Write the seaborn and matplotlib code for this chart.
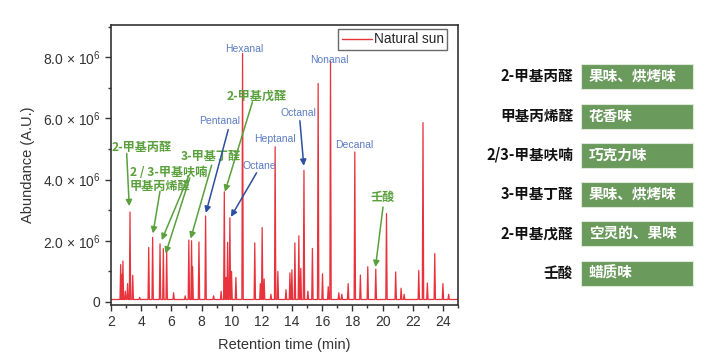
import numpy as np
import pandas as pd
import matplotlib
matplotlib.use("Agg")
import matplotlib.pyplot as plt
import seaborn as sns
from matplotlib.patches import Rectangle
from matplotlib.ticker import FixedLocator, FixedFormatter, MultipleLocator

# ---------------- data ----------------
peak_times = [2.64, 2.72, 2.79, 2.95, 3.10, 3.26, 3.44, 3.9, 4.50, 4.76, 5.25, 5.47, 5.69,
              6.15, 6.92, 7.16, 7.34, 7.41, 7.83, 8.27, 8.8, 9.3, 9.51, 9.62, 9.73, 9.88, 9.99,
              10.28, 10.72, 11.53, 11.9, 12.02, 12.15, 12.6, 12.88, 13.06, 13.6, 13.86,
              13.99, 14.19, 14.45, 14.58, 14.79, 15.05, 15.35, 15.73, 16.02, 16.4, 16.55,
              17.1, 17.3, 17.72, 18.16, 18.53, 19.02, 19.55, 20.26, 20.87, 21.23, 21.43,
              22.4, 22.68, 22.97, 23.46, 24.0, 24.38]
peak_heights = [1.22, 0.9, 1.34, 0.35, 0.6, 2.94, 0.87, 0.15, 1.78, 2.11, 1.90, 1.74, 1.70,
                0.30, 0.20, 2.02, 2.00, 1.15, 1.96, 2.81, 0.2, 0.35, 3.60, 0.8, 1.95, 2.75, 1.0,
                0.80, 8.12, 1.93, 0.6, 2.43, 0.75, 0.25, 5.07, 1.00, 0.40, 0.95,
                1.05, 1.93, 2.16, 1.10, 4.30, 0.35, 1.75, 7.14, 0.92, 0.50, 7.87,
                0.30, 0.25, 0.60, 4.90, 0.88, 1.15, 1.07, 2.89, 0.98, 0.45, 0.25,
                1.03, 5.86, 0.62, 1.58, 0.60, 0.25]
baseline = 0.08

x_ticks = [2, 4, 6, 8, 10, 12, 14, 16, 18, 20, 22, 24]
y_ticks = [0, 2e6, 4e6, 6e6, 8e6]
y_ticklabels = ["0", "2.0 × 10$^{6}$", "4.0 × 10$^{6}$", "6.0 × 10$^{6}$", "8.0 × 10$^{6}$"]

blue_labels = ["Hexanal", "Nonanal", "Pentanal", "Heptanal", "Octanal", "Octane", "Decanal"]
blue_pos = [(10.8, 8.28), (16.5, 7.92), (9.22, 5.9), (12.86, 5.31), (14.4, 6.16), (11.83, 4.45), (18.14, 5.12)]

row_labels = ["2-甲基丙醛", "甲基丙烯醛", "2/3-甲基呋喃", "3-甲基丁醛", "2-甲基戊醛", "壬酸"]
row_flavors = ["果味、烘烤味", "花香味", "巧克力味", "果味、烘烤味", "空灵的、果味", "蜡质味"]

# ---------------- build trace ----------------
w = 0.045
xs = [2.0]
ys = [baseline]
for t, h in sorted(zip(peak_times, peak_heights)):
    xs += [t - w, t, t + w]
    ys += [baseline, h, baseline]
xs.append(25.0)
ys.append(baseline)
df = pd.DataFrame({"Retention time (min)": xs, "Abundance": np.array(ys) * 1e6})

# ---------------- figure ----------------
sns.set_style("white")
plt.rcParams["font.family"] = ["Liberation Sans", "Noto Sans CJK SC", "DejaVu Sans"]
plt.rcParams["mathtext.fontset"] = "custom"
plt.rcParams["mathtext.rm"] = "Liberation Sans"
plt.rcParams["mathtext.default"] = "rm"

W, H = 720, 358
fig = plt.figure(figsize=(7.2, 3.58), dpi=100)
ax = fig.add_axes([111 / W, 1 - 305 / H, (458 - 111) / W, (305 - 25) / H])

sns.lineplot(data=df, x="Retention time (min)", y="Abundance", ax=ax,
             color="#e8323c", linewidth=0.9, estimator=None, sort=False,
             label="Natural sun")

ax.set_xlim(2, 25)
ax.set_ylim(-0.1e6, 9.05e6)
ax.xaxis.set_major_locator(FixedLocator(x_ticks))
ax.xaxis.set_minor_locator(MultipleLocator(1))
ax.yaxis.set_major_locator(FixedLocator(y_ticks))
ax.yaxis.set_major_formatter(FixedFormatter(y_ticklabels))
ax.yaxis.set_minor_locator(MultipleLocator(1e6))
ax.tick_params(which="major", direction="out", length=4, width=1, color="#333333",
               labelsize=10, labelcolor="#333333", left=True, bottom=True)
ax.tick_params(which="minor", direction="out", length=2.5, width=1, color="#333333",
               left=True, bottom=True)
for s in ax.spines.values():
    s.set_color("#333333")
    s.set_linewidth(1.2)
ax.set_xlabel("Retention time (min)", fontsize=10.5, color="#333333", labelpad=6)
ax.set_ylabel("Abundance (A.U.)", fontsize=10.5, color="#333333", labelpad=6)

leg = ax.legend(loc="upper right", fontsize=9.8, frameon=True, fancybox=False,
                handlelength=2.2, borderpad=0.25, handletextpad=0.15,
                borderaxespad=0.0,
                bbox_to_anchor=((447 - 111) / 347, (305 - 29) / 280))
leg.get_frame().set_edgecolor("#444444")
leg.get_frame().set_linewidth(1.0)
for line in leg.get_lines():
    line.set_linewidth(1.0)

# blue labels
for lab, (tx, ty) in zip(blue_labels, blue_pos):
    ax.text(tx, ty * 1e6, lab, color="#5b7cc4", fontsize=7.5, ha="center", va="center")

green = "#5aa03c"
dblue = "#2e4fa0"
cjk = ["Noto Sans CJK SC", "DejaVu Sans"]

def arrow(x0, y0, x1, y1, color):
    ax.annotate("", xy=(x1, y1 * 1e6), xytext=(x0, y0 * 1e6),
                arrowprops=dict(arrowstyle="-|>", color=color, lw=1.1,
                                mutation_scale=9, shrinkA=0, shrinkB=0))

gkw = dict(color=green, fontsize=8.7, va="center", family=cjk, fontweight="bold")
# green annotations
ax.text(4.05, 5.06e6, "2-甲基丙醛", ha="center", **gkw)
arrow(3.04, 4.85, 3.21, 3.13, green)
ax.text(3.25, 4.22e6, "2 / 3-甲基呋喃", ha="left", **gkw)
ax.text(3.25, 3.78e6, "甲基丙烯醛", ha="left", **gkw)
arrow(5.25, 3.62, 4.78, 2.24, green)
arrow(7.15, 4.12, 5.36, 2.02, green)
arrow(7.22, 4.05, 5.62, 1.58, green)
ax.text(8.62, 4.74e6, "3-甲基丁醛", ha="center", **gkw)
arrow(8.67, 4.47, 7.28, 2.07, green)
ax.text(11.67, 6.72e6, "2-甲基戊醛", ha="center", **gkw)
arrow(11.38, 6.54, 9.55, 3.6, green)
ax.text(19.98, 3.41e6, "壬酸", ha="center", **gkw)
arrow(20.03, 3.1, 19.53, 1.14, green)

# dark blue arrows
arrow(9.77, 5.63, 8.29, 2.91, dblue)
arrow(11.65, 4.22, 9.95, 2.78, dblue)
arrow(14.52, 5.92, 14.78, 4.45, dblue)

# ---------------- right panel ----------------
pax = fig.add_axes([0, 0, 1, 1])
pax.set_xlim(0, W)
pax.set_ylim(H, 0)
pax.axis("off")
pax.patch.set_alpha(0)
centers = [76, 116, 155, 194, 233, 273]
for cy, lab, fl in zip(centers, row_labels, row_flavors):
    pax.add_patch(Rectangle((581, cy - 12.5), 112, 25, facecolor="#6a9a5c",
                            edgecolor="#dfe9da", linewidth=0.8))
    pax.text(573, cy, lab, ha="right", va="center", fontsize=10.5, fontweight="bold",
             color="#111111", family=cjk)
    pax.text(589, cy, fl, ha="left", va="center", fontsize=10.5, fontweight="bold",
             color="white", family=cjk)

fig.savefig("out.png", dpi=100)
